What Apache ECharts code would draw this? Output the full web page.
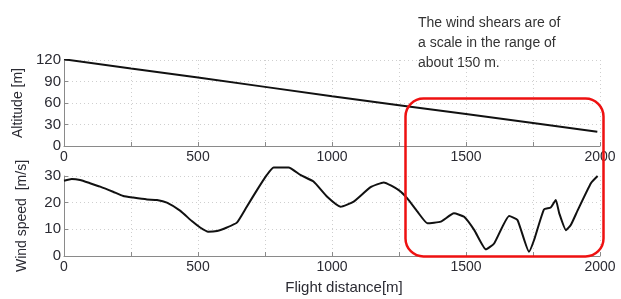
<!DOCTYPE html>
<html style="height: 100%">
<head>
    <meta charset="utf-8">
</head>
<body style="height: 100%; margin: 0; background: #fff">
<div id="container" style="width: 621px; height: 299px"></div>
<script type="text/javascript" src="https://cdn.jsdelivr.net/npm/echarts@6/dist/echarts.min.js"></script>
<script type="text/javascript">
    // altitude along the flight path
    var altDistance = [0, 250, 500, 750, 1000, 1250, 1500, 1750, 1990];
    var altitude = [121, 108, 95.5, 82.5, 69.5, 57, 44.5, 32, 20];

    // wind speed along the flight path
    var windDistance = [0, 29, 60, 97, 135, 183, 221, 258, 310, 347, 384, 433, 477, 508, 538, 571, 608, 645,
        682, 720, 757, 782, 838, 882, 931, 982, 1032, 1081, 1144, 1193, 1249, 1281, 1319, 1356, 1406,
        1455, 1493, 1531, 1574, 1605, 1661, 1692, 1735, 1754, 1791, 1816, 1835, 1848, 1873, 1891,
        1917, 1966, 1991];
    var windSpeed = [28.2, 28.9, 28.5, 27.3, 26, 24.1, 22.5, 21.9, 21.2, 21, 20, 17, 13.1, 10.7, 9.1, 9.4, 10.7, 12.5,
        18.5, 24.7, 30.4, 33.2, 33.2, 30.4, 27.9, 22.2, 18.5, 20.4, 25.8, 27.6, 24.7, 21.6, 16.6, 12.3, 12.9,
        16, 14.7, 9.7, 2.5, 4.7, 15, 13.5, 1.6, 6, 17.5, 18.2, 21, 16, 9.7, 11.6,
        17.2, 27.3, 30];

    var xTicks = [0, 500, 1000, 1500, 2000];
    var altTicks = [0, 30, 60, 90, 120];
    var windTicks = [0, 10, 20, 30];

    var noteLines = ['The wind shears are of', 'a scale in the range of', 'about 150 m.'];

    function pairs(xs, ys) {
        return xs.map(function (x, i) { return [x, ys[i]]; });
    }

    var font = 'Liberation Sans, Arial, sans-serif';
    var textColor = '#2b2b33';

    function xAxisCfg(gridIndex, name) {
        return {
            type: 'value',
            gridIndex: gridIndex,
            min: 0,
            max: 2000,
            interval: 250,
            name: name,
            nameLocation: 'middle',
            nameGap: 24,
            nameTextStyle: { color: textColor, fontFamily: font, fontSize: 15, padding: [0, 0, 0, 24] },
            axisLine: { lineStyle: { color: '#8a8a8a', width: 1 } },
            axisTick: { inside: true, length: 4, lineStyle: { color: '#8a8a8a' } },
            axisLabel: {
                color: textColor, fontFamily: font, fontSize: 14, margin: 4,
                showMaxLabel: true,
                formatter: function (v) { return xTicks.indexOf(v) >= 0 ? String(v) : ''; }
            },
            splitLine: { show: true, lineStyle: { color: '#cfcfcf', type: [1, 3] } }
        };
    }

    function yAxisCfg(gridIndex, ticks, name, gap) {
        return {
            type: 'value',
            gridIndex: gridIndex,
            min: ticks[0],
            max: ticks[ticks.length - 1],
            interval: ticks[1] - ticks[0],
            name: name,
            nameLocation: 'middle',
            nameGap: gap,
            nameTextStyle: { color: textColor, fontFamily: font, fontSize: 14 },
            axisLine: { show: true, lineStyle: { color: '#8a8a8a', width: 1 } },
            axisTick: { show: true, inside: true, length: 4, lineStyle: { color: '#8a8a8a' } },
            axisLabel: { color: textColor, fontFamily: font, fontSize: 15, margin: 3 },
            splitLine: { show: true, lineStyle: { color: '#cfcfcf', type: [1, 3] } }
        };
    }

    var myChart = echarts.init(document.getElementById('container'), null, { renderer: 'canvas' });

    var option = {
        animation: false,
        backgroundColor: '#fff',
        grid: [
            { left: 64, right: 21, top: 60, height: 86 },
            { left: 64, right: 21, top: 176, height: 80 }
        ],
        xAxis: [xAxisCfg(0, ''), xAxisCfg(1, 'Flight distance[m]')],
        yAxis: [yAxisCfg(0, altTicks, 'Altitude [m]', 35), yAxisCfg(1, windTicks, 'Wind speed  [m/s]', 35)],
        series: [
            {
                type: 'line',
                xAxisIndex: 0,
                yAxisIndex: 0,
                data: pairs(altDistance, altitude),
                symbol: 'none',
                lineStyle: { color: '#111', width: 2 }
            },
            {
                type: 'line',
                xAxisIndex: 1,
                yAxisIndex: 1,
                data: pairs(windDistance, windSpeed),
                symbol: 'none',
                clip: false,
                smooth: 0.15,
                lineStyle: { color: '#111', width: 2 }
            }
        ],
        graphic: [
            {
                type: 'rect',
                left: 403,
                top: 96,
                shape: { width: 198, height: 158, r: 18 },
                style: { fill: 'none', stroke: '#ee1111', lineWidth: 2.5 },
                z: 100
            },
            {
                type: 'text',
                left: 418,
                top: 13,
                style: {
                    text: noteLines.join('\n'),
                    fill: '#333',
                    font: '14px ' + font,
                    lineHeight: 20
                }
            }
        ]
    };

    myChart.setOption(option);
    window.addEventListener('resize', myChart.resize);
</script>
</body>
</html>
